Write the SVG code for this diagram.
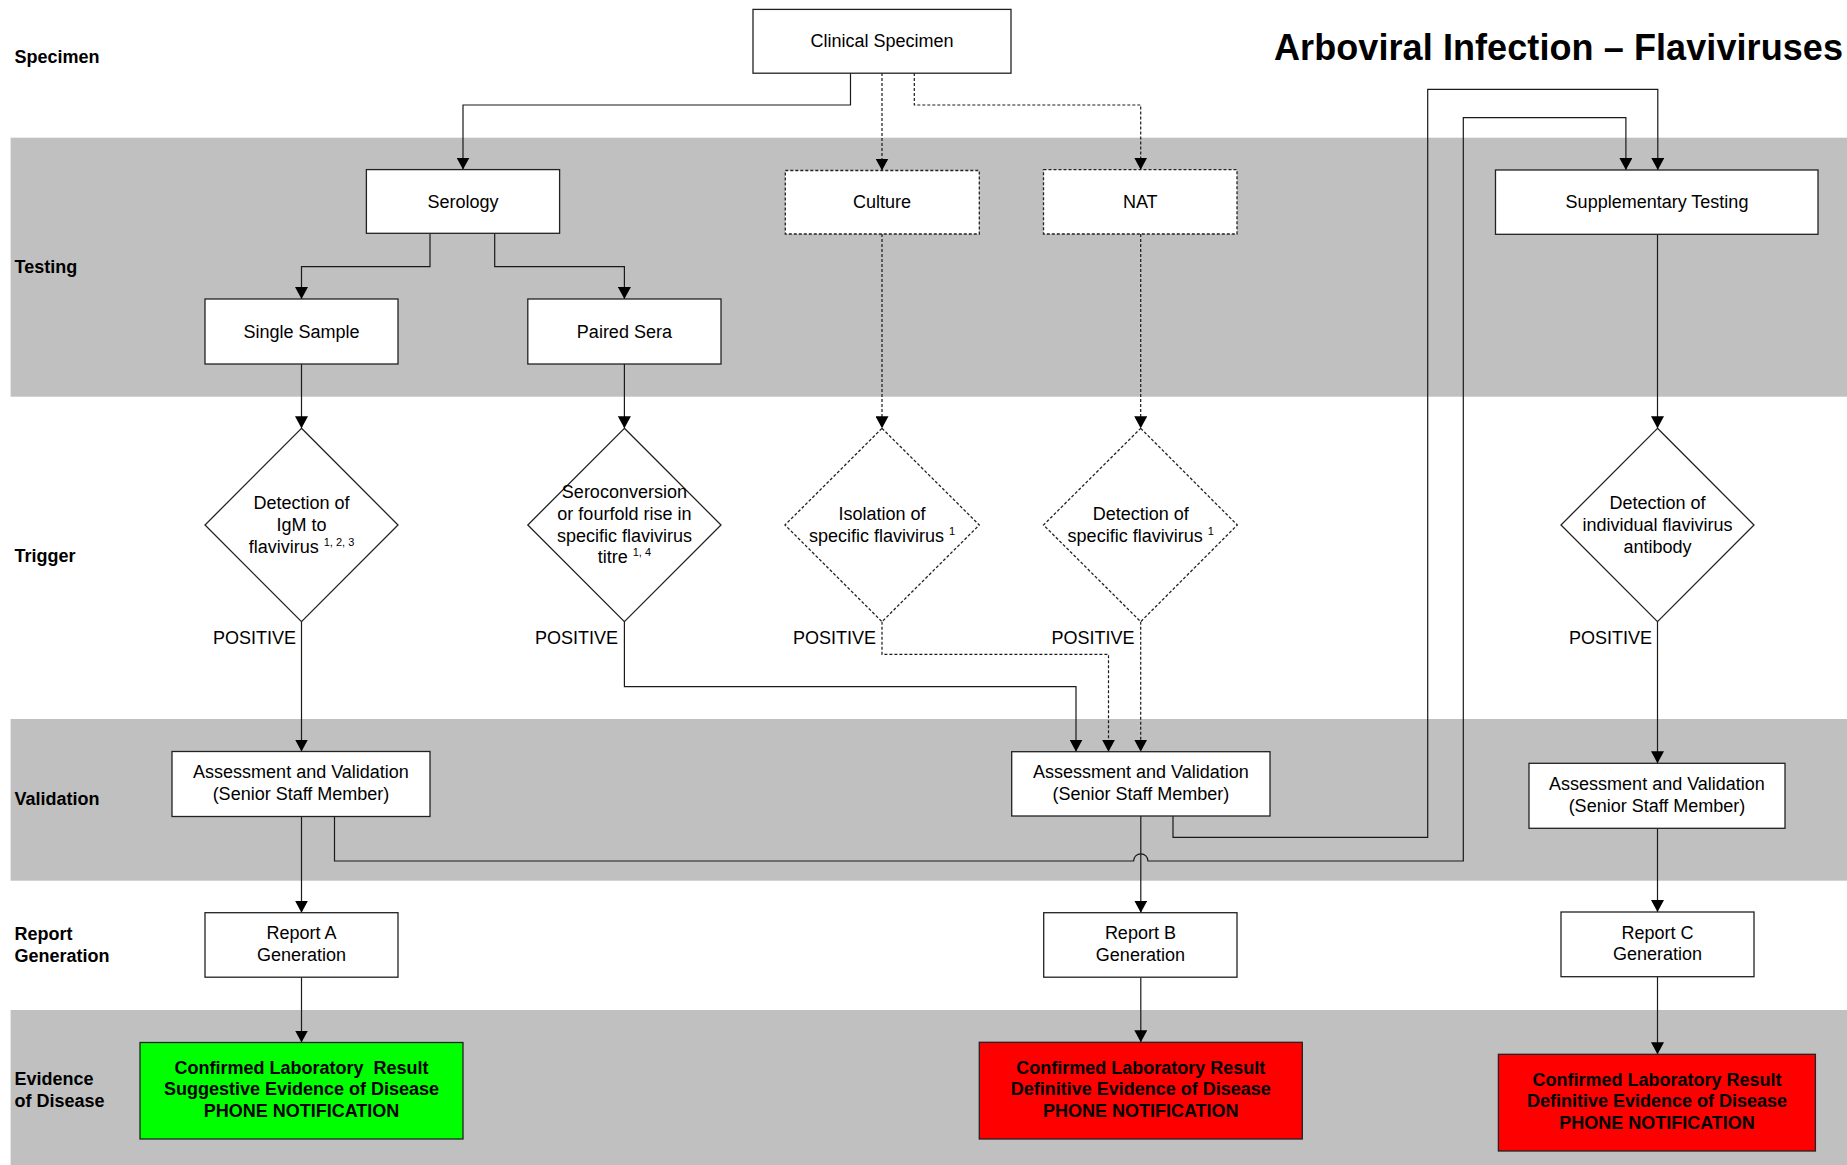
<svg xmlns="http://www.w3.org/2000/svg" width="1847" height="1165" viewBox="0 0 1847 1165">
  <defs>
    <style>
      .band{fill:#c0c0c0}
      .box{fill:#fff;stroke:#222;stroke-width:1.3}
      .dash{stroke-dasharray:3 2}
      .t{font-family:"Liberation Sans",Arial,sans-serif;font-size:18px;fill:#000;text-anchor:middle}
      .lab{font-family:"Liberation Sans",Arial,sans-serif;font-size:18px;font-weight:bold;fill:#000}
      .b{font-weight:bold}
      .sup{font-size:11px}
      .c{fill:none;stroke:#1a1a1a;stroke-width:1.2}
      .green{fill:#00ff00;stroke:#222;stroke-width:1.3}
      .red{fill:#ff0000;stroke:#222;stroke-width:1.3}
    </style>
    <marker id="arr" viewBox="0 0 12 13" markerWidth="12" markerHeight="13" refX="12" refY="6.5" orient="auto" markerUnits="userSpaceOnUse">
      <path d="M0,0 L12,6.5 L0,13 z" fill="#000"/>
    </marker>
  </defs>

  <rect width="1847" height="1165" fill="#fff"/>

  <!-- swimlane bands -->
  <rect class="band" x="10.6" y="137.7" width="1836.4" height="259"/>
  <rect class="band" x="10.6" y="719" width="1836.4" height="161.7"/>
  <rect class="band" x="10.6" y="1010" width="1836.4" height="155"/>

  <!-- lane labels -->
  <g id="lane-labels">
    <text class="lab" x="14.5" y="63">Specimen</text>
    <text class="lab" x="14.5" y="272.5">Testing</text>
    <text class="lab" x="14.5" y="562">Trigger</text>
    <text class="lab" x="14.5" y="805">Validation</text>
    <text class="lab" x="14.5" y="940">Report</text>
    <text class="lab" x="14.5" y="962">Generation</text>
    <text class="lab" x="14.5" y="1085">Evidence</text>
    <text class="lab" x="14.5" y="1107">of Disease</text>
  </g>

  <text id="title" x="1274" y="59.5" font-family="Liberation Sans, Arial, sans-serif" font-size="36" font-weight="bold" textLength="569" lengthAdjust="spacing">Arboviral Infection – Flaviviruses</text>

  <!-- connectors -->
  <g id="connectors">
    <path class="c" marker-end="url(#arr)" d="M850.5,73 V105 H463 V169.6"/>
    <path class="c dash" marker-end="url(#arr)" d="M882,73 V170.5"/>
    <path class="c dash" marker-end="url(#arr)" d="M914.3,73 V105 H1140.7 V169.7"/>
    <path class="c" marker-end="url(#arr)" d="M430,233.3 V266.7 H301.5 V299"/>
    <path class="c" marker-end="url(#arr)" d="M494.7,233.3 V266.7 H624.4 V299"/>
    <path class="c" marker-end="url(#arr)" d="M301.5,364 V428.3"/>
    <path class="c" marker-end="url(#arr)" d="M624.4,364 V428.3"/>
    <path class="c dash" marker-end="url(#arr)" d="M882,234 V428.3"/>
    <path class="c dash" marker-end="url(#arr)" d="M1140.7,234 V428.3"/>
    <path class="c" marker-end="url(#arr)" d="M1657.5,234.3 V428.3"/>
    <path class="c" marker-end="url(#arr)" d="M301.5,621.7 V751.5"/>
    <path class="c" marker-end="url(#arr)" d="M624.4,621.7 V686.7 H1076 V751.7"/>
    <path class="c dash" marker-end="url(#arr)" d="M882,621.7 V654.3 H1108.5 V751.7"/>
    <path class="c dash" marker-end="url(#arr)" d="M1140.7,621.7 V751.7"/>
    <path class="c" marker-end="url(#arr)" d="M1657.5,621.7 V763.3"/>
    <path class="c" marker-end="url(#arr)" d="M301.5,816.5 V912.7"/>
    <path class="c" marker-end="url(#arr)" d="M1140.8,816 V912.7"/>
    <path class="c" marker-end="url(#arr)" d="M1657.5,828.3 V912"/>
    <path class="c" marker-end="url(#arr)" d="M301.5,977.2 V1042.5"/>
    <path class="c" marker-end="url(#arr)" d="M1140.8,977.2 V1042.3"/>
    <path class="c" marker-end="url(#arr)" d="M1657.5,976.7 V1054.3"/>
    <path class="c" marker-end="url(#arr)" d="M1173,816 V837.3 H1427.7 V89.3 H1657.8 V170"/>
    <path class="c" marker-end="url(#arr)" d="M334.5,816.5 V861 H1133.6 A7.2,7.2 0 0 1 1148,861 H1463.3 V117.7 H1625.9 V170"/>
  </g>

  <!-- specimen -->
  <g id="clinical-specimen">
    <rect class="box" x="753" y="9.4" width="258" height="63.8"/>
    <text class="t" x="882" y="47">Clinical Specimen</text>
  </g>

  <!-- testing -->
  <g id="serology">
    <rect class="box" x="366.4" y="169.6" width="193.2" height="63.7"/>
    <text class="t" x="463" y="207.5">Serology</text>
  </g>
  <g id="culture">
    <rect class="box dash" x="785.3" y="170.5" width="194" height="63.5"/>
    <text class="t" x="882" y="208">Culture</text>
  </g>
  <g id="nat">
    <rect class="box dash" x="1043.5" y="169.7" width="193.5" height="64.3"/>
    <text class="t" x="1140.3" y="208">NAT</text>
  </g>
  <g id="supplementary-testing">
    <rect class="box" x="1495.5" y="170" width="322.5" height="64.3"/>
    <text class="t" x="1657" y="208">Supplementary Testing</text>
  </g>
  <g id="single-sample">
    <rect class="box" x="205" y="299" width="193" height="65"/>
    <text class="t" x="301.5" y="337.5">Single Sample</text>
  </g>
  <g id="paired-sera">
    <rect class="box" x="527.8" y="299" width="193.2" height="65"/>
    <text class="t" x="624.4" y="337.5">Paired Sera</text>
  </g>

  <!-- triggers -->
  <g id="trigger-igm">
    <polygon class="box" points="301.5,428.3 398,525 301.5,621.7 205,525"/>
    <text class="t"><tspan x="301.5" y="509">Detection of</tspan><tspan x="301.5" y="531">IgM to</tspan><tspan x="301.5" y="553">flavivirus <tspan class="sup" dy="-7">1, 2, 3</tspan></tspan></text>
    <text class="t" x="296" y="644.3" style="text-anchor:end">POSITIVE</text>
  </g>
  <g id="trigger-seroconversion">
    <polygon class="box" points="624.4,428.3 721,525 624.4,621.7 527.8,525"/>
    <text class="t"><tspan x="624.4" y="498">Seroconversion</tspan><tspan x="624.4" y="519.8">or fourfold rise in</tspan><tspan x="624.4" y="541.5">specific flavivirus</tspan><tspan x="624.4" y="563.3">titre <tspan class="sup" dy="-7">1, 4</tspan></tspan></text>
    <text class="t" x="618" y="644.3" style="text-anchor:end">POSITIVE</text>
  </g>
  <g id="trigger-isolation">
    <polygon class="box dash" points="882,428.3 979.3,525 882,621.7 785,525"/>
    <text class="t"><tspan x="882" y="520">Isolation of</tspan><tspan x="882" y="541.7">specific flavivirus <tspan class="sup" dy="-7">1</tspan></tspan></text>
    <text class="t" x="876" y="644.3" style="text-anchor:end">POSITIVE</text>
  </g>
  <g id="trigger-detection">
    <polygon class="box dash" points="1140.7,428.3 1237.3,525 1140.7,621.7 1043.5,525"/>
    <text class="t"><tspan x="1140.7" y="520">Detection of</tspan><tspan x="1140.7" y="541.7">specific flavivirus <tspan class="sup" dy="-7">1</tspan></tspan></text>
    <text class="t" x="1134.5" y="644.3" style="text-anchor:end">POSITIVE</text>
  </g>
  <g id="trigger-antibody">
    <polygon class="box" points="1657.5,428.3 1754,525 1657.5,621.7 1561,525"/>
    <text class="t"><tspan x="1657.5" y="509">Detection of</tspan><tspan x="1657.5" y="531">individual flavivirus</tspan><tspan x="1657.5" y="553">antibody</tspan></text>
    <text class="t" x="1652" y="644.3" style="text-anchor:end">POSITIVE</text>
  </g>

  <!-- validation -->
  <g id="validation-a">
    <rect class="box" x="172" y="751.5" width="258" height="65"/>
    <text class="t"><tspan x="301" y="777.7">Assessment and Validation</tspan><tspan x="301" y="800">(Senior Staff Member)</tspan></text>
  </g>
  <g id="validation-b">
    <rect class="box" x="1011.7" y="751.7" width="258.3" height="64.3"/>
    <text class="t"><tspan x="1140.8" y="777.7">Assessment and Validation</tspan><tspan x="1140.8" y="800">(Senior Staff Member)</tspan></text>
  </g>
  <g id="validation-c">
    <rect class="box" x="1529" y="763.3" width="256" height="65"/>
    <text class="t"><tspan x="1657" y="789.5">Assessment and Validation</tspan><tspan x="1657" y="811.8">(Senior Staff Member)</tspan></text>
  </g>

  <!-- reports -->
  <g id="report-a">
    <rect class="box" x="205" y="912.7" width="193" height="64.5"/>
    <text class="t"><tspan x="301.5" y="939.3">Report A</tspan><tspan x="301.5" y="961">Generation</tspan></text>
  </g>
  <g id="report-b">
    <rect class="box" x="1043.7" y="912.7" width="193.3" height="64.5"/>
    <text class="t"><tspan x="1140.4" y="939.3">Report B</tspan><tspan x="1140.4" y="961">Generation</tspan></text>
  </g>
  <g id="report-c">
    <rect class="box" x="1561" y="912" width="193" height="64.7"/>
    <text class="t"><tspan x="1657.5" y="938.6">Report C</tspan><tspan x="1657.5" y="960.3">Generation</tspan></text>
  </g>

  <!-- evidence -->
  <g id="evidence-a">
    <rect class="green" x="140" y="1042.5" width="323" height="96.5"/>
    <text class="t b"><tspan x="301.5" y="1073.7">Confirmed Laboratory&#160; Result</tspan><tspan x="301.5" y="1095.3">Suggestive Evidence of Disease</tspan><tspan x="301.5" y="1117.3">PHONE NOTIFICATION</tspan></text>
  </g>
  <g id="evidence-b">
    <rect class="red" x="979.3" y="1042.3" width="323" height="96.7"/>
    <text class="t b"><tspan x="1140.8" y="1073.7">Confirmed Laboratory Result</tspan><tspan x="1140.8" y="1095.3">Definitive Evidence of Disease</tspan><tspan x="1140.8" y="1117.3">PHONE NOTIFICATION</tspan></text>
  </g>
  <g id="evidence-c">
    <rect class="red" x="1498.4" y="1054.3" width="317" height="96.7"/>
    <text class="t b"><tspan x="1657" y="1085.7">Confirmed Laboratory Result</tspan><tspan x="1657" y="1107.3">Definitive Evidence of Disease</tspan><tspan x="1657" y="1129.3">PHONE NOTIFICATION</tspan></text>
  </g>
</svg>
